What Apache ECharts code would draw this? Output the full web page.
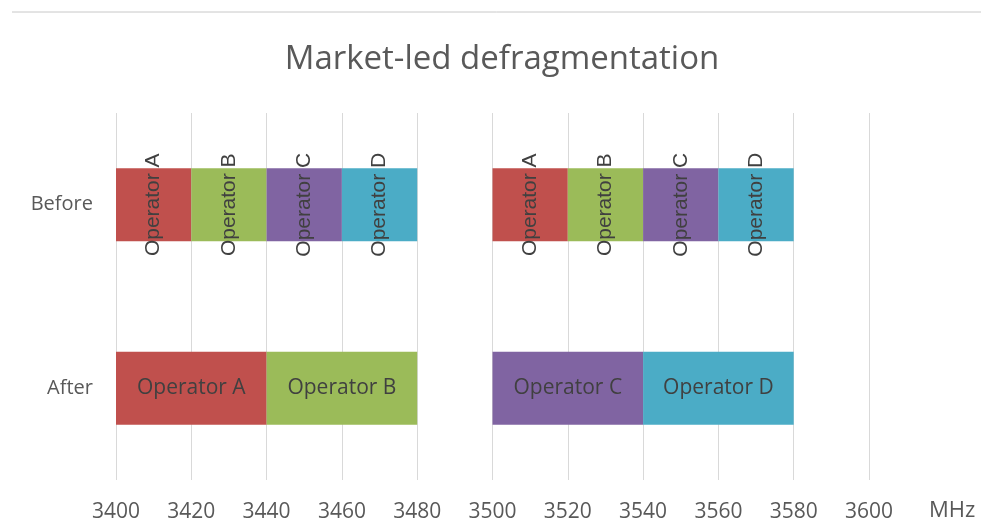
<!DOCTYPE html>
<html>
<head>
<meta charset="utf-8">
<script src="https://cdn.jsdelivr.net/npm/echarts@6/dist/echarts.min.js"></script>
<style>
  html, body { margin: 0; padding: 0; background: #fff; }
  #chart { width: 981px; height: 523px; }
</style>
</head>
<body>
<div id="chart"></div>
<script>
// rows and the spectrum blocks in each row (MHz, from 3400 upwards)
const categories = ['Before', 'After'];
const axisStart = 3400;
const axisEnd = 3600;
const tickStep = 20;

const beforeNames = ['Operator A', 'Operator B', 'Operator C', 'Operator D', '', 'Operator A', 'Operator B', 'Operator C', 'Operator D'];
const beforeWidths = [20, 20, 20, 20, 20, 20, 20, 20, 20];
const afterNames = ['Operator A', 'Operator B', '', 'Operator C', 'Operator D'];
const afterWidths = [40, 40, 20, 40, 40];

const operatorColors = {
  'Operator A': '#c0504d',
  'Operator B': '#9bbb59',
  'Operator C': '#8064a2',
  'Operator D': '#4bacc6'
};

var myChart = echarts.init(document.getElementById('chart'));

function block(name, width, rotated) {
  if (!name) {
    // empty gap between the two blocks
    return { value: width, itemStyle: { color: 'transparent' }, label: { show: false } };
  }
  return {
    value: width,
    op: name,
    itemStyle: { color: operatorColors[name] },
    label: rotated
      ? { show: true, rotate: 90, fontFamily: 'Liberation Sans', fontSize: 21, color: '#404040' }
      : { show: true, rotate: 0, fontFamily: 'Open Sans', fontSize: 21, color: '#404040' }
  };
}

var series = [{
  type: 'bar',
  stack: 'band',
  barWidth: 73,
  silent: true,
  itemStyle: { color: 'transparent' },
  data: categories.map(function () { return axisStart; })
}];

var n = Math.max(beforeNames.length, afterNames.length);
for (var i = 0; i < n; i++) {
  series.push({
    type: 'bar',
    stack: 'band',
    barWidth: 73,
    label: {
      show: true,
      position: 'inside',
      formatter: function (p) { return p.data && p.data.op ? p.data.op : ''; }
    },
    data: [
      i < beforeNames.length ? block(beforeNames[i], beforeWidths[i], true) : '-',
      i < afterNames.length ? block(afterNames[i], afterWidths[i], false) : '-'
    ]
  });
}

var option = {
  animation: false,
  title: {
    text: 'Market-led defragmentation',
    left: 497,
    textAlign: 'center',
    top: 38,
    textStyle: { fontFamily: 'Open Sans', fontSize: 33, fontWeight: 'normal', color: '#595959' }
  },
  graphic: [{
    type: 'line',
    shape: { x1: 12, y1: 12, x2: 981, y2: 12 },
    style: { stroke: '#c8c8c8', lineWidth: 1 }
  }],
  grid: { left: 116, right: 112, top: 113, bottom: 43 },
  xAxis: {
    type: 'value',
    min: axisStart,
    max: axisEnd,
    interval: tickStep,
    name: 'MHz',
    nameLocation: 'end',
    nameGap: 60,
    nameTextStyle: {
      fontFamily: 'Open Sans', fontSize: 22, color: '#595959',
      verticalAlign: 'top', padding: [20, 0, 0, 0]
    },
    axisLine: { show: false },
    axisTick: { show: false },
    axisLabel: {
      fontFamily: 'Open Sans', fontSize: 21, color: '#595959', margin: 22,
      formatter: function (v) { return String(v); }
    },
    splitLine: { lineStyle: { color: '#d9d9d9' } }
  },
  yAxis: {
    type: 'category',
    data: categories,
    inverse: true,
    axisLine: { show: false },
    axisTick: { show: false },
    axisLabel: { fontFamily: 'Open Sans', fontSize: 20, color: '#595959', margin: 23, padding: [4, 0, 0, 0] }
  },
  series: series
};

myChart.setOption(option);
</script>
</body>
</html>
